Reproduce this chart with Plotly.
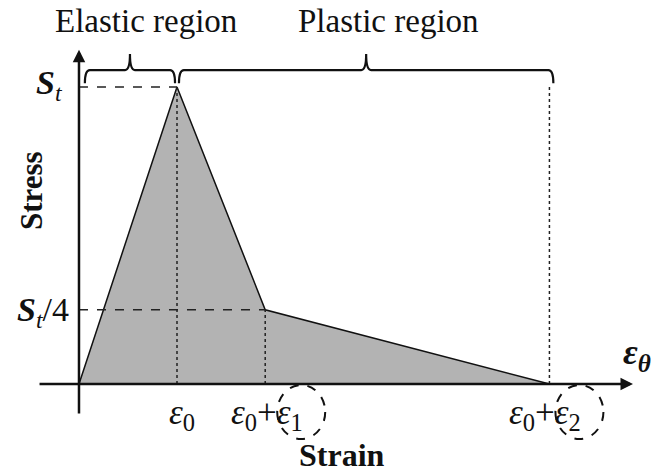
import plotly.graph_objects as go

# ---- data (normalised units) ----
strain_pts = [0.0, 1.0, 1.9, 4.8]      # 0, ε0, ε0+ε1, ε0+ε2
stress_pts = [0.0, 1.0, 0.25, 0.0]     # 0, St, St/4, 0
tick_labels = ["<i>ε</i><sub>0</sub>", "<i>ε</i><sub>0</sub>+<i>ε</i><sub>1</sub>",
               "<i>ε</i><sub>0</sub>+<i>ε</i><sub>2</sub>"]
stress_labels = ["<b><i>S</i></b><sub><i>t</i></sub>", "<b><i>S</i></b><sub><i>t</i></sub>/4"]
region_labels = ["Elastic region", "Plastic region"]

FONT = "Liberation Serif, Times New Roman, serif"
e0, e01, e02 = strain_pts[1], strain_pts[2], strain_pts[3]
St, St4 = stress_pts[1], stress_pts[2]

fig = go.Figure()
fig.add_trace(go.Scatter(x=strain_pts, y=stress_pts, mode="lines", fill="toself",
                         fillcolor="#b3b3b3", line=dict(color="#111", width=1.5),
                         hoverinfo="skip", showlegend=False))

shapes = []
# guide lines
shapes.append(dict(type="line", x0=0, x1=e0, y0=St, y1=St,
                   line=dict(color="#222", width=1.3, dash="dash")))
shapes.append(dict(type="line", x0=0, x1=e01, y0=St4, y1=St4,
                   line=dict(color="#222", width=1.3, dash="dash")))
shapes.append(dict(type="line", x0=e0, x1=e0, y0=0, y1=St,
                   line=dict(color="#222", width=1.5, dash="dot")))
shapes.append(dict(type="line", x0=e01, x1=e01, y0=0, y1=St4,
                   line=dict(color="#222", width=1.5, dash="dot")))
shapes.append(dict(type="line", x0=e02, x1=e02, y0=0, y1=St,
                   line=dict(color="#222", width=1.5, dash="dot")))


def brace(x0, x1, y_end=1.013, y_h=1.057, y_tip=1.111, d=0.05):
    xm = (x0 + x1) / 2
    p = (f"M {x0},{y_end} Q {x0},{y_h} {x0+d},{y_h} L {xm-d},{y_h} "
         f"Q {xm},{y_h} {xm},{y_tip} Q {xm},{y_h} {xm+d},{y_h} "
         f"L {x1-d},{y_h} Q {x1},{y_h} {x1},{y_end}")
    return dict(type="path", path=p, line=dict(color="#111", width=2.2))


shapes.append(brace(0.06, e0 - 0.02))
shapes.append(brace(e0 + 0.02, e02 + 0.04))

# dashed circles around ε1 and ε2
for xa, dx in [(e01, 36), (e02, 30)]:
    shapes.append(dict(type="circle", xref="x", yref="y", xsizemode="pixel", ysizemode="pixel",
                       xanchor=xa, yanchor=0, x0=dx - 24, x1=dx + 24, y0=-28 - 27, y1=-28 + 27,
                       line=dict(color="#111", width=2, dash="dash")))

ann = []
# axes with arrows
ann.append(dict(x=5.653, y=0, ax=-0.418, ay=0, axref="x", ayref="y", text="",
                showarrow=True, arrowhead=2, arrowsize=1, arrowwidth=2.5, arrowcolor="#111",
                standoff=0, startstandoff=0))
ann.append(dict(x=0, y=1.125, ax=0, ay=-0.104, axref="x", ayref="y", text="",
                showarrow=True, arrowhead=2, arrowsize=1, arrowwidth=2.5, arrowcolor="#111",
                standoff=0, startstandoff=0))

tf = dict(family=FONT, size=35, color="#111")
ann.append(dict(x=e0, y=0, text=tick_labels[0], showarrow=False, xanchor="center",
                yanchor="middle", xshift=5, yshift=-30, font=tf))
ann.append(dict(x=e01, y=0, text=tick_labels[1], showarrow=False, xanchor="left",
                yanchor="middle", xshift=-36, yshift=-30, font=tf))
ann.append(dict(x=e02, y=0, text=tick_labels[2], showarrow=False, xanchor="left",
                yanchor="middle", xshift=-42, yshift=-30, font=tf))

sf = dict(family=FONT, size=34, color="#111")
ann.append(dict(x=0, y=St, text=stress_labels[0], showarrow=False, xanchor="right",
                yanchor="middle", xshift=-14, yshift=2, font=sf))
ann.append(dict(x=0, y=St4, text=stress_labels[1], showarrow=False, xanchor="right",
                yanchor="middle", xshift=-8, yshift=-2, font=sf))

ann.append(dict(x=5.65, y=0, text="<b><i>ε</i><sub><i>θ</i></sub></b>", showarrow=False,
                xanchor="center", yanchor="middle", xshift=4, yshift=30,
                font=dict(family=FONT, size=36, color="#111")))

rf = dict(family=FONT, size=33, color="#111")
ann.append(dict(x=0.684, y=1.0, yref="paper", text=region_labels[0], showarrow=False,
                xanchor="center", yanchor="top", yshift=-1, font=rf))
ann.append(dict(x=3.158, y=1.0, yref="paper", text=region_labels[1], showarrow=False,
                xanchor="center", yanchor="top", yshift=-1, font=rf))

ann.append(dict(x=-0.49, y=0.653, text="<b>Stress</b>", showarrow=False, textangle=-90,
                xanchor="center", yanchor="middle", font=dict(family=FONT, size=31, color="#111")))
ann.append(dict(x=2.684, y=-0.239, text="<b>Strain</b>", showarrow=False,
                xanchor="center", yanchor="middle", font=dict(family=FONT, size=32, color="#111")))

fig.update_layout(width=664, height=474, margin=dict(l=0, r=0, t=0, b=0),
                  paper_bgcolor="white", plot_bgcolor="white",
                  xaxis=dict(range=[-0.806, 5.969], visible=False, fixedrange=True),
                  yaxis=dict(range=[-0.303, 1.2929], visible=False, fixedrange=True),
                  shapes=shapes, annotations=ann, showlegend=False)
fig.write_html("out.html", config={"displayModeBar": False})
